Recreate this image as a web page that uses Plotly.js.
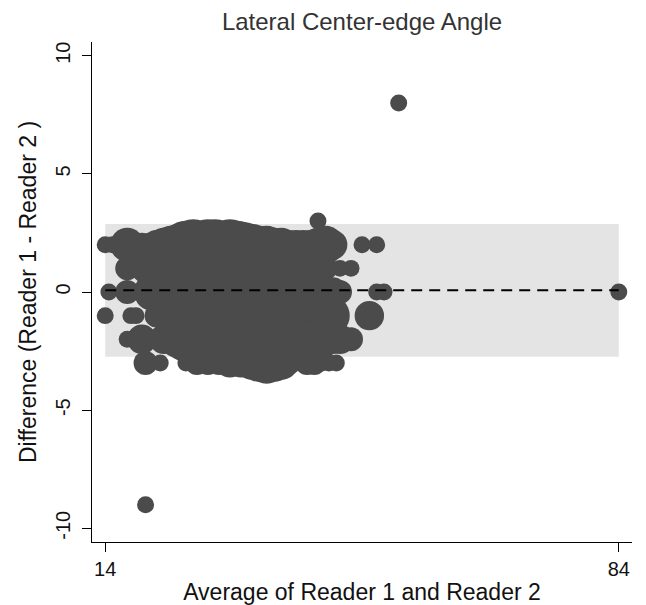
<!DOCTYPE html>
<html>
<head>
<meta charset="utf-8">
<script src="https://cdn.plot.ly/plotly-3.0.1.min.js"></script>
<style>html,body{margin:0;padding:0;background:#fff;}#chart{width:646px;height:605px;}</style>
</head>
<body>
<div id="chart"></div>
<script>
// Average of the two readers (x), difference Reader 1 - Reader 2 (y), number of hips at that point (bubble weight)
var avgVals = [
  // diff = 2
  14,15,17,19,20,21,22,23,24,25,26,27,28,29,30,31,32,33,34,35,36,37,38,39,40,41,42,43,44,45,49,51,
  // diff = 1
  17,19.5,21,22,23,24,25,26,27,28,29,30,31,32,33,34,35,36,37,38,39,40,41,42,43,44,46,47.5,
  // diff = 0
  14.5,17,20.5,22,23,24,25,26,27,28,29,30,31,32,33,34,35,36,37,38,39,40,41,42,43,44,45,46,51,52,84,
  // diff = -1
  14,17.5,18.2,21,22.5,23.5,24.5,25.5,26.5,27.5,28.5,29.5,30.5,31.5,32.5,33.5,34.5,35.5,36.5,37.5,38.5,39.5,40.5,41.5,42.5,44.5,50,
  // diff = -2
  17,19,20.5,22,23,24,25,26,27,28,29,30,31,32,33,34,35,36,37,38,39,40,41,42,43,44,45,46,47.5,
  // diff = -3
  19.5,21.5,25,26.5,28,29.5,31,32.5,34,35,36,37,38,39,41.5,42.5,43.5,44.5,45.5,
  // outliers
  43,54,19.5
];
var diffVals = [
  2,2,2,2,2,2,2,2,2,2,2,2,2,2,2,2,2,2,2,2,2,2,2,2,2,2,2,2,2,2,2,2,
  1,1,1,1,1,1,1,1,1,1,1,1,1,1,1,1,1,1,1,1,1,1,1,1,1,1,1,1,
  0,0,0,0,0,0,0,0,0,0,0,0,0,0,0,0,0,0,0,0,0,0,0,0,0,0,0,0,0,0,0,
  -1,-1,-1,-1,-1,-1,-1,-1,-1,-1,-1,-1,-1,-1,-1,-1,-1,-1,-1,-1,-1,-1,-1,-1,-1,-1,-1,
  -2,-2,-2,-2,-2,-2,-2,-2,-2,-2,-2,-2,-2,-2,-2,-2,-2,-2,-2,-2,-2,-2,-2,-2,-2,-2,-2,-2,-2,
  -3,-3,-3,-3,-3,-3,-3,-3,-3,-3,-3,-3,-3,-3,-3,-3,-3,-3,-3,
  3,8,-9
];
var counts = [
  1,1,4,2,2,3,4,5,6,8,9,8,9,9,8,9,8,7,6,5,5,4,4,3,3,3,3,4,5,3,1,1,
  2,3,2,4,6,8,10,12,13,14,14,15,14,13,12,11,10,9,8,7,6,5,4,3,3,2,1,1,
  1,2,5,3,5,8,11,14,16,18,18,18,17,16,15,14,12,10,9,8,7,6,5,4,4,3,3,2,1,1,1,
  1,1,1,2,3,5,8,11,14,16,17,17,17,16,15,14,12,10,9,8,7,6,5,4,3,6,3,
  1,3,1,3,3,5,7,9,11,12,13,13,13,12,12,11,10,9,8,7,6,5,5,4,4,4,3,3,2,
  2,1,1,2,2,2,3,3,4,5,6,5,4,2,2,2,1,1,1,
  1,1,1
];
var meanDiff = 0.07;
var upperLoA = 2.88;
var lowerLoA = -2.74;
var xTicks = [14, 84];
var yTicks = [-10, -5, 0, 5, 10];

var trace = {
  type: 'scatter',
  mode: 'markers',
  x: avgVals,
  y: diffVals,
  marker: {
    size: counts,
    sizemode: 'area',
    sizeref: 1/144,
    color: '#4b4b4b',
    opacity: 1,
    line: {width: 0}
  },
  hoverinfo: 'x+y',
  showlegend: false
};

var fam = '"Liberation Sans", Arial, Helvetica, sans-serif';

var layout = {
  width: 646,
  height: 605,
  margin: {l: 92, r: 14, t: 42, b: 63},
  paper_bgcolor: '#ffffff',
  plot_bgcolor: '#ffffff',
  font: {family: fam, size: 20, color: '#111111'},
  title: {
    text: 'Lateral Center-edge Angle',
    font: {family: fam, size: 24, color: '#333333'},
    xref: 'paper', x: 0.5, xanchor: 'center',
    yref: 'container', y: 0.965, yanchor: 'middle'
  },
  xaxis: {
    range: [12.2, 85.8],
    tickvals: xTicks,
    ticktext: xTicks.map(String),
    ticks: 'outside',
    ticklen: 9,
    tickwidth: 1,
    tickcolor: '#000',
    showline: true,
    linecolor: '#000',
    linewidth: 1,
    showgrid: false,
    zeroline: false,
    tickfont: {size: 20},
    title: {text: 'Average of Reader 1 and Reader 2', font: {size: 23}, standoff: 6}
  },
  yaxis: {
    range: [-10.58, 10.58],
    tickvals: yTicks,
    ticktext: yTicks.map(String),
    tickangle: -90,
    ticks: 'outside',
    ticklen: 9,
    tickwidth: 1,
    tickcolor: '#000',
    showline: true,
    linecolor: '#000',
    linewidth: 1,
    showgrid: false,
    zeroline: false,
    tickfont: {size: 20},
    ticklabelstandoff: 4,
    title: {text: 'Difference (Reader 1 - Reader 2 )', font: {size: 23}, standoff: 8}
  },
  shapes: [
    {type: 'rect', xref: 'x', yref: 'y', x0: xTicks[0], x1: xTicks[1], y0: lowerLoA, y1: upperLoA,
     fillcolor: '#e4e4e4', line: {width: 0}, layer: 'below'},
    {type: 'line', xref: 'x', yref: 'y', x0: xTicks[0], x1: xTicks[1], y0: meanDiff, y1: meanDiff,
     line: {color: '#000', width: 2, dash: '11px,7px'}, layer: 'above'}
  ]
};

Plotly.newPlot('chart', [trace], layout, {displayModeBar: false, staticPlot: true});
</script>
</body>
</html>
